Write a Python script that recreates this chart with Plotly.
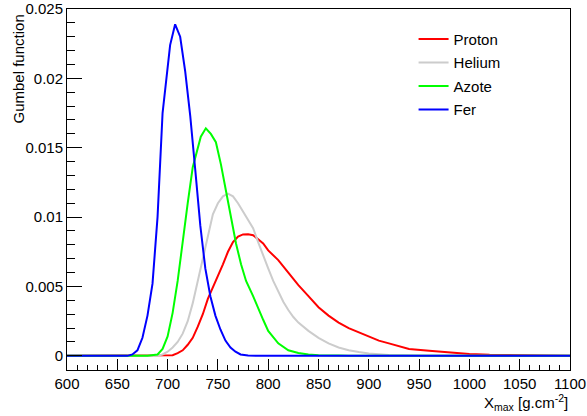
import plotly.graph_objects as go

# ---- data ----
proton_x = [600, 700, 705, 710, 715, 720, 725, 730, 735, 740, 745, 750, 755, 760, 765, 770, 775, 780, 785, 790,
            795, 800, 810, 820, 830, 840, 850, 860, 870, 880, 890, 900, 910, 920, 930, 940, 960, 980, 1000, 1020,
            1040, 1050, 1100]
proton_y = [0, 0, 0.00005, 0.0002, 0.0004, 0.0008, 0.0013, 0.0021, 0.0030, 0.0041, 0.0049, 0.0057, 0.0066, 0.0075,
            0.0082, 0.0086, 0.00875, 0.00876, 0.0087, 0.0084, 0.0081, 0.0076, 0.0069, 0.0060, 0.0051, 0.0043, 0.0035,
            0.0029, 0.0024, 0.0020, 0.0017, 0.0014, 0.0011, 0.0009, 0.0007, 0.0005, 0.00036, 0.00023, 0.00014,
            0.00008, 0.00005, 0.00003, 0]

helium_x = [600, 690, 695, 700, 705, 710, 715, 720, 725, 730, 735, 740, 745, 750, 755, 760, 765, 770, 775, 780,
            785, 790, 795, 800, 805, 810, 815, 820, 825, 830, 840, 850, 860, 870, 880, 890, 900, 920, 940, 960, 1100]
helium_y = [0, 0, 0.0001, 0.0003, 0.0006, 0.0010, 0.0016, 0.0025, 0.0038, 0.0054, 0.0071, 0.0088, 0.0102, 0.0110,
            0.0115, 0.0117, 0.0115, 0.0110, 0.0104, 0.0099, 0.0092, 0.0082, 0.0072, 0.0063, 0.0054, 0.0046, 0.0039,
            0.0033, 0.0028, 0.0024, 0.0018, 0.0013, 0.0009, 0.0006, 0.0004, 0.00027, 0.00017, 0.00006, 0.00002, 0, 0]

azote_x = [600, 680, 690, 695, 700, 705, 710, 715, 720, 725, 730, 733, 738, 743, 748, 753, 758, 763, 768, 773,
           778, 785, 790, 795, 800, 810, 820, 830, 840, 850, 870, 880, 1100]
azote_y = [0, 0, 0.0001, 0.0005, 0.0014, 0.0031, 0.0054, 0.0083, 0.0110, 0.0136, 0.0151, 0.0158, 0.0164, 0.0160,
           0.0154, 0.0138, 0.0119, 0.0099, 0.0081, 0.0066, 0.0054, 0.0043, 0.0034, 0.0026, 0.0018, 0.0009, 0.0004,
           0.0002, 0.0001, 0.00005, 0.00002, 0, 0]

fer_x = [600, 660, 665, 670, 675, 680, 685, 690, 695, 700, 702.5, 707.5, 712.5, 717.5, 722.5, 727.5, 732.5, 737.5,
         742.5, 747.5, 752.5, 757.5, 762.5, 767.5, 772.5, 780, 790, 1100]
fer_y = [0, 0, 0.0001, 0.0004, 0.0013, 0.0029, 0.0052, 0.0100, 0.0175, 0.0206, 0.0224, 0.0239, 0.0230, 0.0205,
         0.0173, 0.0134, 0.0094, 0.0063, 0.0043, 0.0029, 0.0019, 0.0011, 0.0006, 0.0003, 0.0001, 0.00003, 0, 0]

series_names = ["Proton", "Helium", "Azote", "Fer"]
series_colors = ["#ff0000", "#cccccc", "#00ff00", "#0000ff"]

y_tickvals = [0, 0.005, 0.01, 0.015, 0.02, 0.025]
y_ticktext = ["0", "0.005", "0.01", "0.015", "0.02", "0.025"]

FONT = "Liberation Sans, Arial, Helvetica, sans-serif"

fig = go.Figure()
for name, xs, ys, col in zip(series_names,
                             [proton_x, helium_x, azote_x, fer_x],
                             [proton_y, helium_y, azote_y, fer_y],
                             series_colors):
    fig.add_trace(go.Scatter(x=xs, y=ys, mode="lines", name=name, legendgroup=name,
                             line=dict(color=col, width=2), hoverinfo="skip"))

fig.update_layout(
    width=587, height=416,
    margin=dict(l=67, r=17, t=9, b=46, autoexpand=False),
    paper_bgcolor="white", plot_bgcolor="white",
    font=dict(family=FONT, size=15, color="black"),
    showlegend=True,
    legend=dict(x=0.689, y=0.962, xanchor="left", yanchor="top",
                bgcolor="rgba(0,0,0,0)", borderwidth=0,
                font=dict(family=FONT, size=15, color="black"),
                tracegroupgap=1),
    xaxis=dict(range=[600, 1100], showgrid=False, zeroline=False, automargin=False,
               showline=True, linecolor="black", linewidth=1, mirror=True,
               ticks="inside", ticklen=11, tickwidth=1, tickcolor="black",
               dtick=50, tick0=600,
               minor=dict(ticks="inside", ticklen=5, dtick=10, tickcolor="black", tickwidth=1, showgrid=False),
               tickfont=dict(family=FONT, size=15)),
    yaxis=dict(range=[-0.00102, 0.025], showgrid=False, zeroline=False, automargin=False,
               showline=True, linecolor="black", linewidth=1, mirror=True,
               ticks="inside", ticklen=15, tickwidth=1, tickcolor="black",
               tickvals=y_tickvals, ticktext=y_ticktext,
               minor=dict(ticks="inside", ticklen=8, dtick=0.001, tick0=0, tickcolor="black", tickwidth=1,
                          showgrid=False),
               tickfont=dict(family=FONT, size=15)),
    annotations=[
        dict(text="Gumbel function", textangle=-90, xref="paper", yref="paper",
             x=-0.0974, y=1, xanchor="center", yanchor="top", yshift=-4,
             showarrow=False, font=dict(family=FONT, size=15, color="black")),
        dict(text="X<sub>max</sub> [g.cm<sup>-2</sup>]", xref="paper", yref="paper",
             x=1, y=0, xanchor="right", yanchor="top", yshift=-20,
             showarrow=False, font=dict(family=FONT, size=15, color="black")),
    ],
)

fig.write_html("out.html", config={"displayModeBar": False},
               post_script="document.body.style.margin='0';document.body.style.padding='0';")
